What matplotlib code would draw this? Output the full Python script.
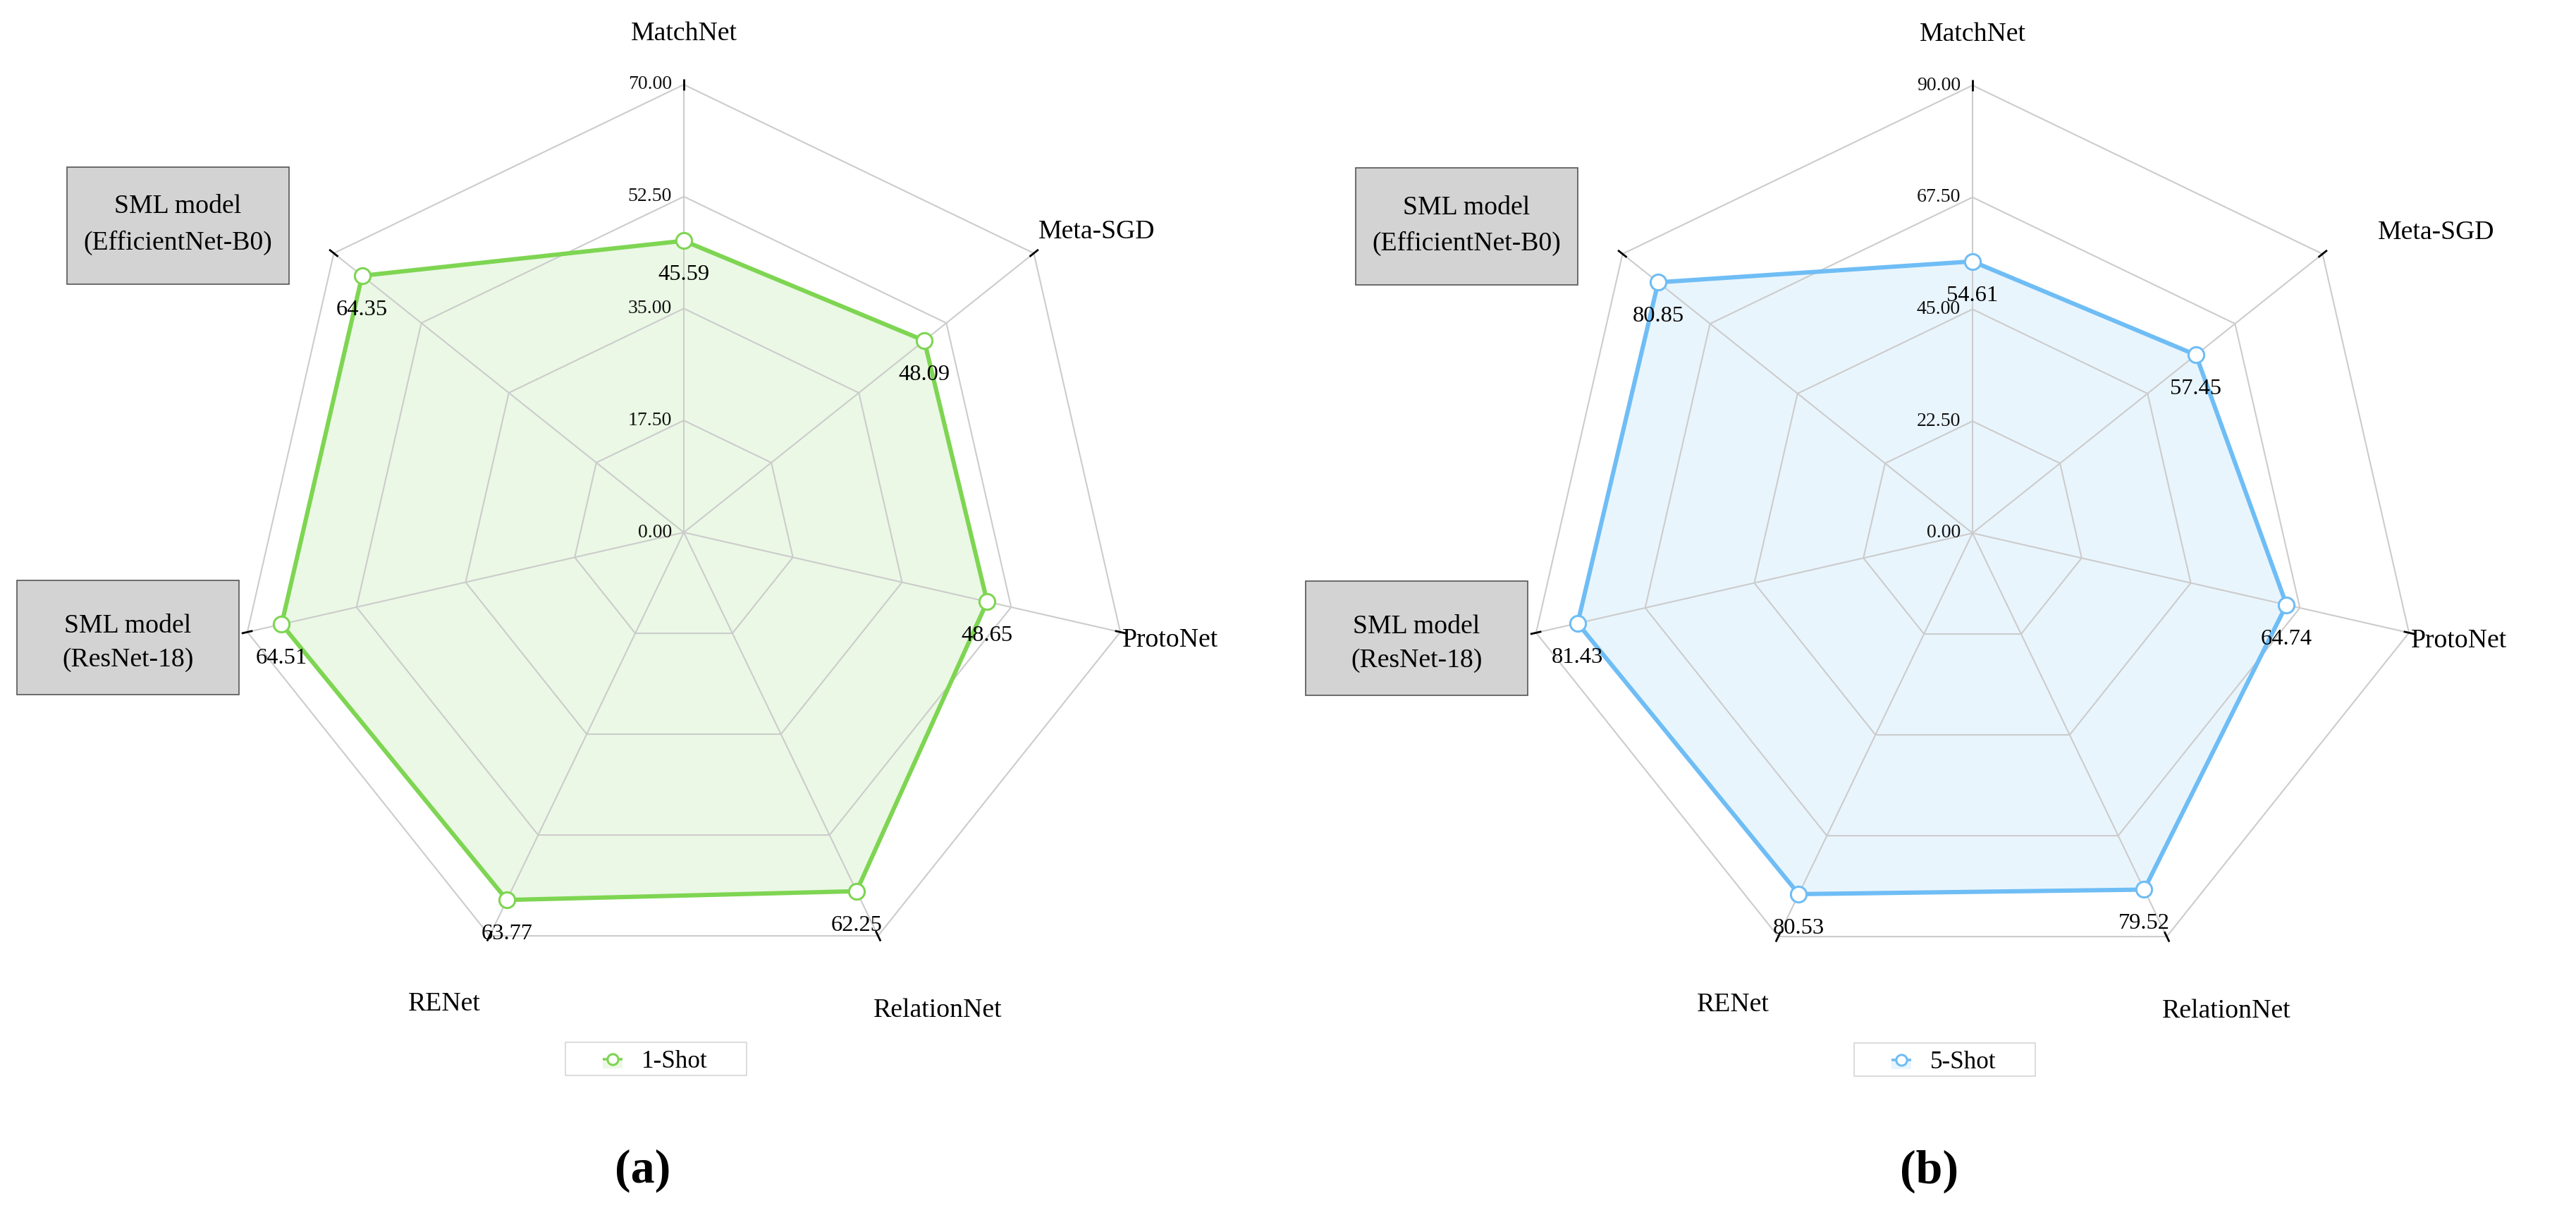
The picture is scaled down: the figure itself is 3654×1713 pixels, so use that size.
import numpy as np
import matplotlib
matplotlib.use("Agg")
import matplotlib.pyplot as plt
from matplotlib.patches import Rectangle

# ---------------- data ----------------
categories = ["MatchNet", "Meta-SGD", "ProtoNet", "RelationNet", "RENet",
              "SML model\n(ResNet-18)", "SML model\n(EfficientNet-B0)"]
shot1_values = [45.59, 48.09, 48.65, 62.25, 63.77, 64.51, 64.35]
shot5_values = [54.61, 57.45, 64.74, 79.52, 80.53, 81.43, 80.85]
shot1_max = 70.0
shot5_max = 90.0
shot1_ticks = ["0.00", "17.50", "35.00", "52.50", "70.00"]
shot5_ticks = ["0.00", "22.50", "45.00", "67.50", "90.00"]
series_names = ["1-Shot", "5-Shot"]
panel_labels = ["(a)", "(b)"]

# ---------------- style / layout ----------------
W, H, DPI = 3655, 1713, 200
R = 635.0  # radar radius in px
GREEN = "#7ed552"
BLUE = "#6fbdf5"
GRID = "#cccccc"

plt.rcParams["font.family"] = ["Liberation Serif", "DejaVu Serif"]
fig = plt.figure(figsize=(W / DPI, H / DPI), dpi=DPI)

n = len(categories)
theta = np.pi / 2 - 2 * np.pi * np.arange(n) / n


def P(dx, dy):
    """pixel offset from radar centre (dy downwards) -> data units"""
    return dx / R, -dy / R


# boxed names: (x0, x1, y0, y1, baselines)
box_layout = {5: (-946, -631, 68, 230, (142, 190)),
              6: (-875, -560, -518, -352, (-452.5, -401.5))}


def radar(cx, cy, x0, x1, values, vmax, ticks, color, sname, plabel,
          name_layout, plabel_dx):
    ax = fig.add_axes([x0 / W, 0, (x1 - x0) / W, 1])
    ax.set_xlim((x0 - cx) / R, (x1 - cx) / R)
    ax.set_ylim(-(H - cy) / R, cy / R)
    ax.axis("off")

    c, s = np.cos(theta), np.sin(theta)
    # rings
    for k in range(1, 5):
        f = k / 4
        ax.plot(np.append(f * c, f * c[0]), np.append(f * s, f * s[0]),
                color=GRID, lw=0.75, zorder=2)
    # spokes + end ticks
    for i in range(n):
        ax.plot([0, c[i]], [0, s[i]], color=GRID, lw=0.75, zorder=2)
        ax.plot([0.988 * c[i], 1.013 * c[i]], [0.988 * s[i], 1.013 * s[i]],
                color="black", lw=1.0, zorder=3, solid_capstyle="butt")
    # tick labels along first axis
    for k, t in enumerate(ticks):
        ax.text(-17 / R, k / 4, t, ha="right", va="center", fontsize=10,
                color="#111111", zorder=6)

    # series
    v = np.array(values) / vmax
    xs, ys = v * c, v * s
    ax.fill(xs, ys, color=color, alpha=0.15, lw=0, zorder=1)
    ax.plot(np.append(xs, xs[0]), np.append(ys, ys[0]), color=color,
            lw=2.2, zorder=4)
    ax.plot(xs, ys, ls="none", marker="o", ms=8, mfc="white", mec=color,
            mew=1.1, zorder=5)
    for xi, yi, val in zip(xs, ys, values):
        ax.text(xi, yi - 56 / R, f"{val:.2f}", ha="center", va="baseline",
                fontsize=11.7, color="black", zorder=6)

    # axis names
    for i, (ha, dx, dy) in enumerate(name_layout):
        ax.text(*P(dx, dy), categories[i], ha=ha, va="baseline",
                fontsize=13.6, color="black")
    for i, (bx0, bx1, by0, by1, bls) in box_layout.items():
        ax.add_patch(Rectangle(P(bx0, by1), (bx1 - bx0) / R, (by1 - by0) / R,
                               facecolor="#d3d3d3", edgecolor="#555555",
                               lw=0.6, zorder=6))
        for line, bl in zip(categories[i].split("\n"), bls):
            ax.text(*P((bx0 + bx1) / 2, bl), line, ha="center",
                    va="baseline", fontsize=13.6, color="black", zorder=7)

    # legend
    ax.add_patch(Rectangle(P(-168, 770), 257 / R, 47 / R, facecolor="white",
                           edgecolor="#d6d6d6", lw=0.6, zorder=6))
    ax.add_patch(Rectangle(P(-115, 760), 28 / R, 13 / R, facecolor=color,
                           alpha=0.15, lw=0, zorder=7))
    ax.plot([-115 / R, -87 / R], [-747 / R, -747 / R], color=color, lw=1.3,
            zorder=8, solid_capstyle="butt")
    ax.plot([-101 / R], [-747 / R], marker="o", ms=5.5, mfc="white", mec=color,
            mew=1.1, zorder=9)
    ax.text(*P(-60, 759), sname, ha="left", va="baseline", fontsize=12.6,
            color="black", zorder=9)

    # panel label
    ax.text(*P(plabel_dx, 905), plabel, ha="center", va="center",
            fontsize=24.5, fontweight="bold", color="black")


# axis-name placement (pixel offsets from centre): (ha, dx, dy_baseline)
names_a = [("center", 0, -698), ("left", 503, -417), ("left", 622, 162),
           ("left", 269, 687), ("right", -288, 678)]
names_b = [("center", 0, -698), ("left", 575, -417), ("left", 622, 162),
           ("left", 269, 687), ("right", -288, 678)]

radar(970, 755, 0, 1827, shot1_values, shot1_max, shot1_ticks, GREEN,
      series_names[0], panel_labels[0], names_a, -58)
radar(2798, 756, 1827, 3655, shot5_values, shot5_max, shot5_ticks, BLUE,
      series_names[1], panel_labels[1], names_b, -61)

fig.savefig("out.png", dpi=DPI, facecolor="white")
